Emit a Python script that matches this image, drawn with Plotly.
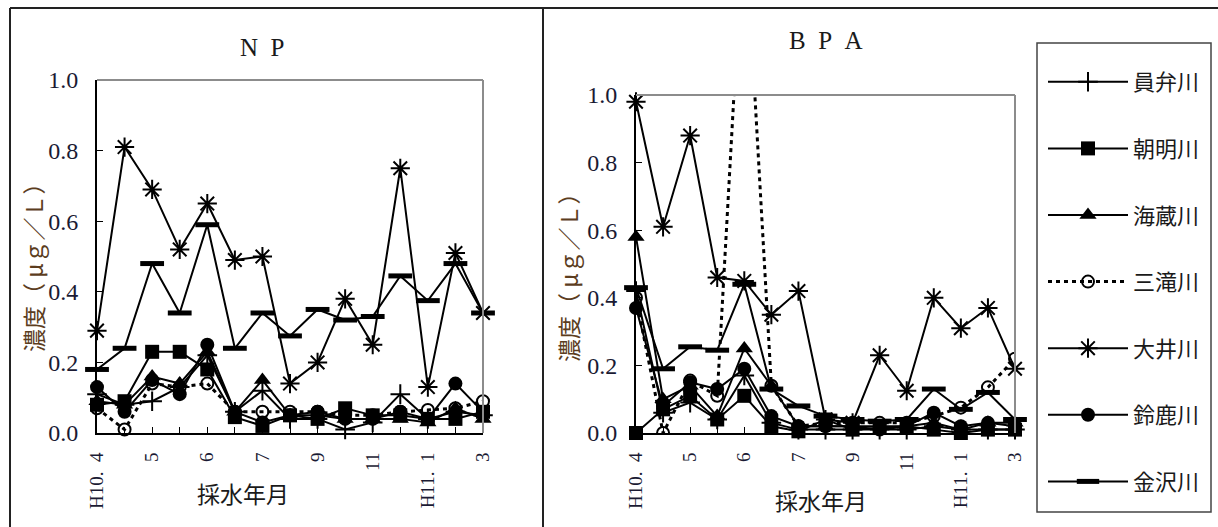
import plotly.graph_objects as go

W, H = 1218, 527

categories = ["H10.4a", "H10.4b", "H10.5a", "H10.5b", "H10.6a", "H10.6b", "H10.7", "H10.8",
              "H10.9", "H10.10", "H10.11", "H10.12", "H11.1", "H11.2", "H11.3"]
tick_labels = ["H10.\u20024", "", "5", "", "6", "", "7", "", "9", "", "11", "", "H11.\u20021", "", "3"]
y_ticks = [0.0, 0.2, 0.4, 0.6, 0.8, 1.0]

rivers = ["員弁川", "朝明川", "海蔵川", "三滝川", "大井川", "鈴鹿川", "金沢川"]

# NP concentrations (μg/L)
inabe_np = [0.11, 0.08, 0.09, 0.13, 0.22, 0.06, 0.12, 0.04, 0.04, 0.01, 0.03, 0.11, 0.04, 0.06, 0.05]
asake_np = [0.08, 0.09, 0.23, 0.23, 0.18, 0.045, 0.02, 0.05, 0.04, 0.07, 0.05, 0.05, 0.04, 0.04, 0.06]
kaizo_np = [0.09, 0.08, 0.16, 0.14, 0.23, 0.06, 0.15, 0.05, 0.05, 0.04, 0.04, 0.04, 0.03, 0.07, 0.04]
mitaki_np = [0.07, 0.01, 0.14, 0.13, 0.14, 0.06, 0.06, 0.06, 0.06, 0.05, 0.05, 0.06, 0.065, 0.07, 0.09]
oi_np = [0.29, 0.81, 0.69, 0.52, 0.65, 0.49, 0.50, 0.14, 0.20, 0.38, 0.25, 0.75, 0.13, 0.51, 0.34]
suzuka_np = [0.13, 0.06, 0.15, 0.11, 0.25, 0.06, 0.03, 0.05, 0.06, 0.04, 0.04, 0.06, 0.04, 0.14, 0.06]
kanazawa_np = [0.18, 0.24, 0.48, 0.34, 0.59, 0.24, 0.34, 0.275, 0.35, 0.32, 0.33, 0.445, 0.375, 0.48, 0.34]

# BPA concentrations (μg/L)
inabe_bpa = [0.42, 0.06, 0.09, 0.04, 0.17, 0.03, 0.01, 0.01, 0.01, 0.01, 0.01, 0.02, 0.01, 0.01, 0.01]
asake_bpa = [0.0, 0.07, 0.11, 0.04, 0.11, 0.02, 0.005, 0.04, 0.01, 0.015, 0.02, 0.01, 0.0, 0.01, 0.01]
kaizo_bpa = [0.58, 0.10, 0.14, 0.05, 0.25, 0.14, 0.02, 0.02, 0.02, 0.02, 0.02, 0.03, 0.01, 0.03, 0.03]
mitaki_bpa = [0.40, 0.0, 0.155, 0.11, 1.55, 0.14, 0.02, 0.03, 0.03, 0.03, 0.03, 0.05, 0.075, 0.135, 0.22]
oi_bpa = [0.98, 0.61, 0.88, 0.46, 0.45, 0.35, 0.42, 0.04, 0.03, 0.23, 0.125, 0.40, 0.31, 0.37, 0.19]
suzuka_bpa = [0.37, 0.08, 0.15, 0.13, 0.19, 0.05, 0.02, 0.02, 0.02, 0.01, 0.02, 0.06, 0.02, 0.03, 0.02]
kanazawa_bpa = [0.43, 0.19, 0.255, 0.245, 0.44, 0.13, 0.08, 0.05, 0.04, 0.035, 0.04, 0.13, 0.07, 0.12, 0.04]

np_series = [inabe_np, asake_np, kaizo_np, mitaki_np, oi_np, suzuka_np, kanazawa_np]
bpa_series = [inabe_bpa, asake_bpa, kaizo_bpa, mitaki_bpa, oi_bpa, suzuka_bpa, kanazawa_bpa]

styles = [
    dict(symbol="cross-thin", size=14, line=dict(width=2, color="black"), color="black"),
    dict(symbol="square", size=14, color="black"),
    dict(symbol="triangle-up", size=15, color="black"),
    dict(symbol="circle-open", size=12, line=dict(width=2, color="black"), color="black"),
    dict(symbol="asterisk-open", size=16, line=dict(width=2, color="black"), color="black"),
    dict(symbol="circle", size=14, color="black"),
    dict(symbol="line-ew", size=17, line=dict(width=5, color="black"), color="black"),
]
dashes = ["solid", "solid", "solid", "4px,4px", "solid", "solid", "solid"]
widths = [2, 2, 2, 3, 2, 2, 2]


def px_x(v):
    return v / W


def px_y(v):
    return 1 - v / H


fig = go.Figure()

for i, name in enumerate(rivers):
    fig.add_trace(go.Scatter(
        x=categories, y=np_series[i], name=name, mode="lines+markers",
        legendgroup=name, showlegend=True,
        line=dict(color="black", width=widths[i], dash=dashes[i]),
        marker=styles[i], cliponaxis=False,
        xaxis="x", yaxis="y"))
for i, name in enumerate(rivers):
    fig.add_trace(go.Scatter(
        x=categories, y=bpa_series[i], name=name, mode="lines+markers",
        legendgroup=name, showlegend=False,
        line=dict(color="black", width=widths[i], dash=dashes[i]),
        marker=styles[i], cliponaxis=(name == "三滝川"),
        xaxis="x2", yaxis="y2"))

tick_font = dict(family="Liberation Serif", size=24, color="#1a1a33")
xtick_font = dict(family="Liberation Serif", size=19, color="#1a1a33")


def xaxis_cfg(dom):
    return dict(domain=dom, type="category", range=[0, 14], tickmode="array",
                tickvals=categories, ticktext=tick_labels, tickangle=-90,
                ticks="inside", ticklen=6, tickcolor="black", showline=True,
                linecolor="black", linewidth=2, showgrid=False, zeroline=False,
                tickfont=xtick_font, ticklabelstandoff=10, fixedrange=True,
                automargin=False)


def yaxis_cfg(dom, anchor):
    return dict(domain=dom, range=[0, 1.0], tickmode="array", tickvals=y_ticks,
                ticktext=[f"{v:.1f}" for v in y_ticks], ticks="inside", ticklen=6,
                tickcolor="black", showline=True, linecolor="black", linewidth=2,
                showgrid=False, zeroline=False, tickfont=tick_font, anchor=anchor,
                ticklabelstandoff=12, fixedrange=True, automargin=False)


fig.update_layout(
    width=W, height=H, margin=dict(l=0, r=0, t=0, b=0, autoexpand=False),
    paper_bgcolor="white", plot_bgcolor="white",
    xaxis=dict(**xaxis_cfg([px_x(97), px_x(483)]), anchor="y"),
    yaxis=yaxis_cfg([px_y(433), px_y(80)], "x"),
    xaxis2=dict(**xaxis_cfg([px_x(636), px_x(1015)]), anchor="y2"),
    yaxis2=yaxis_cfg([px_y(433), px_y(95)], "x2"),
    showlegend=True,
    legend=dict(x=px_x(1043), y=px_y(61), xanchor="left", yanchor="top",
                traceorder="grouped", tracegroupgap=35, borderwidth=0,
                itemwidth=80, bgcolor="rgba(0,0,0,0)",
                font=dict(family="Noto Sans CJK JP", size=22, color="#1a1a1a")),
)

shapes = []
# grey top/right frame of plot areas
for xr, yr in [("x domain", "y domain"), ("x2 domain", "y2 domain")]:
    shapes.append(dict(type="line", xref=xr, yref=yr, x0=0, x1=1, y0=1, y1=1,
                       line=dict(color="#8c8c8c", width=2)))
    shapes.append(dict(type="line", xref=xr, yref=yr, x0=1, x1=1, y0=0, y1=1,
                       line=dict(color="#8c8c8c", width=2)))
# panel frames
frame = dict(color="#222222", width=2)
shapes.append(dict(type="line", xref="paper", yref="paper", x0=px_x(10), x1=1, y0=px_y(8), y1=px_y(8), line=frame))
shapes.append(dict(type="line", xref="paper", yref="paper", x0=px_x(10), x1=px_x(10), y0=px_y(8), y1=0, line=frame))
shapes.append(dict(type="line", xref="paper", yref="paper", x0=px_x(543), x1=px_x(543), y0=px_y(8), y1=0, line=frame))
# legend box
shapes.append(dict(type="rect", xref="paper", yref="paper", x0=px_x(1037), x1=px_x(1211),
                   y0=px_y(512), y1=px_y(43), line=dict(color="#444444", width=1.5)))
fig.update_layout(shapes=shapes)

ann = []
title_font = dict(family="Liberation Serif", size=25, color="#1a1a1a")
ann.append(dict(text="N\u2002P", x=px_x(262), y=px_y(47), xref="paper", yref="paper",
                showarrow=False, font=title_font, xanchor="center", yanchor="middle"))
ann.append(dict(text="B\u2002P\u2002A", x=px_x(826), y=px_y(40), xref="paper", yref="paper",
                showarrow=False, font=title_font, xanchor="center", yanchor="middle"))
ylab_font = dict(family="Noto Sans CJK JP", size=23, color="#5c3d1e")
for xc, yc in [(33, 262), (568, 272)]:
    ann.append(dict(text="濃度（ μｇ／Ｌ）", x=px_x(xc), y=px_y(yc), xref="paper", yref="paper",
                    showarrow=False, textangle=-90, font=ylab_font,
                    xanchor="center", yanchor="middle"))
xlab_font = dict(family="Noto Sans CJK JP", size=23, color="#1a1a1a")
for xc, yc in [(243, 493), (821, 500)]:
    ann.append(dict(text="採水年月", x=px_x(xc), y=px_y(yc), xref="paper", yref="paper",
                    showarrow=False, font=xlab_font, xanchor="center", yanchor="middle"))
fig.update_layout(annotations=ann)

fig.write_html("out.html", config={"displayModeBar": False},
               post_script="document.body.style.margin='0px';")
